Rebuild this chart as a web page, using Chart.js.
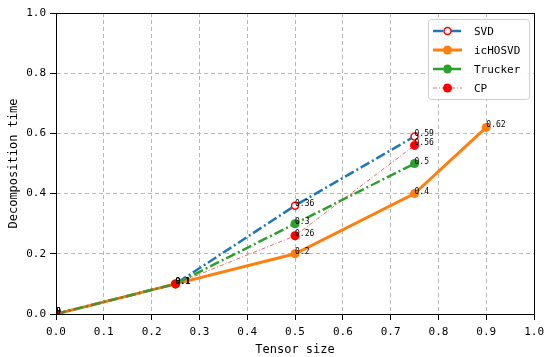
<!DOCTYPE html>
<html><head><meta charset="utf-8">
<script src="https://cdn.jsdelivr.net/npm/chart.js@4/dist/chart.umd.min.js"></script>
<style>html,body{margin:0;padding:0;background:#fff}#wrap{width:550px;height:357px}</style>
</head><body><div id="wrap"><canvas id="c"></canvas></div>
<script>
const seriesNames = ['SVD', 'icHOSVD', 'Trucker', 'CP'];
const svdX = [0, 0.25, 0.5, 0.75];
const svdY = [0, 0.1, 0.36, 0.59];
const ichosvdX = [0, 0.25, 0.5, 0.75, 0.9];
const ichosvdY = [0, 0.1, 0.2, 0.4, 0.62];
const truckerX = [0, 0.25, 0.5, 0.75];
const truckerY = [0, 0.1, 0.3, 0.5];
const cpX = [0, 0.25, 0.5, 0.75];
const cpY = [0, 0.1, 0.26, 0.56];
const xTickValues = [0, 0.1, 0.2, 0.3, 0.4, 0.5, 0.6, 0.7, 0.8, 0.9, 1.0];
const yTickValues = [0, 0.2, 0.4, 0.6, 0.8, 1.0];

const MONO = '"DejaVu Sans Mono", monospace';
const pts = (xs, ys) => xs.map((x, i) => ({x, y: ys[i]}));

const styles = [
  {color:'#1f77b4', width:2.5, dash:[10,3,2,3], pr:3.5, pbg:'#ffffff', pbc:'#ff0000', pbw:1.5, order:3},
  {color:'#ff7f0e', width:3, dash:[], pr:4.5, pbg:'#ff7f0e', pbc:'#ff7f0e', pbw:0, order:2},
  {color:'#2ca02c', width:2.5, dash:[10,3,2,3], pr:4.5, pbg:'#2ca02c', pbc:'#2ca02c', pbw:0, order:1},
  {color:'#e8403a', width:0.8, dash:[4,2,1,2], pr:4.5, pbg:'#ff0000', pbc:'#ff0000', pbw:0, order:0}
];
const allData = [pts(svdX, svdY), pts(ichosvdX, ichosvdY), pts(truckerX, truckerY), pts(cpX, cpY)];

const datasets = allData.map((d, i) => ({
  label: seriesNames[i], data: d,
  borderColor: styles[i].color, borderWidth: styles[i].width, borderDash: styles[i].dash,
  pointRadius: styles[i].pr, pointBackgroundColor: styles[i].pbg,
  pointBorderColor: styles[i].pbc, pointBorderWidth: styles[i].pbw,
  pointHoverRadius: styles[i].pr, tension: 0, fill: false, order: styles[i].order
}));

const fmt = v => String(v);

const framePlugin = {
  id: 'frame',
  afterDatasetsDraw(chart) {
    const {ctx, scales} = chart;
    ctx.save();
    ctx.fillStyle = '#000';
    ctx.font = '8px ' + MONO;
    ctx.textAlign = 'left';
    ctx.textBaseline = 'alphabetic';
    allData.forEach(d => d.forEach(p => {
      ctx.fillText(fmt(p.y), scales.x.getPixelForValue(p.x), scales.y.getPixelForValue(p.y));
    }));
    ctx.restore();
  },
  afterDraw(chart) {
    const {ctx, chartArea: a} = chart;
    ctx.save();
    ctx.strokeStyle = '#000'; ctx.lineWidth = 1;
    ctx.strokeRect(Math.round(a.left) + 0.5, Math.round(a.top) + 0.5, Math.round(a.right - a.left), Math.round(a.bottom - a.top));
    const bx = 428, by = 19, bw = 101, bh = 80;
    ctx.fillStyle = 'rgba(255,255,255,0.85)';
    ctx.strokeStyle = '#d0d0d0';
    ctx.beginPath();
    if (ctx.roundRect) ctx.roundRect(bx + 0.5, by + 0.5, bw, bh, 3); else ctx.rect(bx + 0.5, by + 0.5, bw, bh);
    ctx.fill(); ctx.stroke();
    seriesNames.forEach((name, i) => {
      const s = styles[i];
      const y = by + 12 + i * 19;
      ctx.strokeStyle = s.color; ctx.lineWidth = s.width; ctx.setLineDash(s.dash);
      ctx.beginPath(); ctx.moveTo(433, y); ctx.lineTo(462, y); ctx.stroke();
      ctx.setLineDash([]);
      ctx.beginPath(); ctx.arc(447.5, y, s.pr, 0, Math.PI * 2);
      ctx.fillStyle = s.pbg; ctx.fill();
      if (s.pbw) { ctx.lineWidth = s.pbw; ctx.strokeStyle = s.pbc; ctx.stroke(); }
      ctx.fillStyle = '#000'; ctx.font = '11px ' + MONO;
      ctx.textAlign = 'left'; ctx.textBaseline = 'middle';
      ctx.fillText(name, 474, y + 1);
    });
    ctx.restore();
  }
};

const axisCommon = (vals, pad) => ({
  type: 'linear', min: 0, max: 1,
  afterBuildTicks: s => { s.ticks = vals.map(v => ({value: v})); },
  grid: { color: '#b8b8b8', lineWidth: 1, tickColor: '#000', tickLength: 6, drawTicks: true },
  border: { display: true, color: '#000', width: 1, dash: [4, 3] },
  ticks: { color: '#000', font: {family: MONO, size: 11}, padding: pad, callback: v => Number(v).toFixed(1) }
});

new Chart(document.getElementById('c'), {
  type: 'line',
  data: { datasets },
  options: {
    responsive: true, maintainAspectRatio: false, animation: false,
    layout: { padding: { top: 13, right: 13, left: 0, bottom: 0 } },
    plugins: { legend: { display: false }, tooltip: { enabled: false } },
    scales: {
      x: Object.assign(axisCommon(xTickValues, 6), {
        title: { display: true, text: 'Tensor size', color: '#000', font: {family: MONO, size: 12}, padding: {top: 2, bottom: 0} },
        afterFit: s => { s.height = 43; }
      }),
      y: Object.assign(axisCommon(yTickValues, 4), {
        title: { display: true, text: 'Decomposition time', color: '#000', font: {family: MONO, size: 12}, padding: {top: 7, bottom: 0} },
        afterFit: s => { s.width = 56; }
      })
    }
  },
  plugins: [framePlugin]
});
</script>
</body></html>
